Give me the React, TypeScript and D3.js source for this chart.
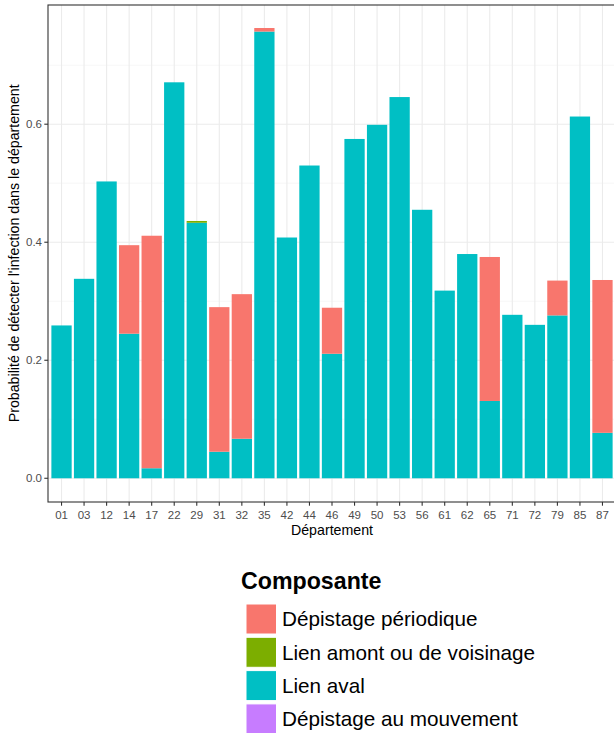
import React from "react";
import * as d3 from "d3";

const departments = ["01","03","12","14","17","22","29","31","32","35","42","44","46","49","50","53","56","61","62","65","71","72","79","85","87"];
const periodique = [0,0,0,0.150,0.394,0,0,0.245,0.245,0.006,0,0,0.078,0,0,0,0,0,0,0.244,0,0,0.059,0,0.259];
const amont = [0,0,0,0,0,0,0.003,0,0,0,0,0,0,0,0,0,0,0,0,0,0,0,0,0,0];
const aval = [0.259,0.338,0.503,0.245,0.017,0.671,0.433,0.045,0.067,0.757,0.408,0.530,0.211,0.575,0.599,0.646,0.455,0.318,0.380,0.131,0.277,0.260,0.276,0.613,0.077];
const mouvement = [0,0,0,0,0,0,0,0,0,0,0,0,0,0,0,0,0,0,0,0,0,0,0,0,0];
const legendLabels = ["Dépistage périodique","Lien amont ou de voisinage","Lien aval","Dépistage au mouvement"];
const yTicks = [0, 0.2, 0.4, 0.6];
const yMinor = [0.1, 0.3, 0.5, 0.7];

const colors: Record<string,string> = {
  periodique: "#F8766D",
  amont: "#7CAE00",
  aval: "#00BFC4",
  mouvement: "#C77CFF",
};

export default function App() {
  const W = 614, H = 733;
  const left = 48, right = 616, top = 5, bottom = 502;
  const font = "'Liberation Sans', Arial, sans-serif";

  const rows = departments.map((d, i) => ({
    dep: d,
    mouvement: mouvement[i],
    aval: aval[i],
    amont: amont[i],
    periodique: periodique[i],
  }));
  const keys = ["mouvement", "aval", "amont", "periodique"];
  const series = d3.stack<any>().keys(keys)(rows);

  const x = d3.scaleBand().domain(departments).range([left, right]).paddingInner(0.1).paddingOuter(0.15);
  const y = d3.scaleLinear().domain([-0.0402, 0.802]).range([bottom, top]);
  const xc = (d: string) => (x(d) as number) + x.bandwidth() / 2;

  const legendKeys = ["periodique", "amont", "aval", "mouvement"];

  return (
    <svg width={W} height={H} style={{ position: "absolute", left: 0, top: 0, background: "#fff" }} fontFamily={font}>
      <rect x={0} y={0} width={W} height={H} fill="#fff" />
      {/* grid */}
      {yMinor.map(t => (
        <line key={"mi" + t} x1={left} x2={right} y1={y(t)} y2={y(t)} stroke="#F2F2F2" strokeWidth={0.6} />
      ))}
      {yTicks.map(t => (
        <line key={"ma" + t} x1={left} x2={right} y1={y(t)} y2={y(t)} stroke="#EBEBEB" strokeWidth={1.1} />
      ))}
      {departments.map(d => (
        <line key={"vx" + d} x1={xc(d)} x2={xc(d)} y1={top} y2={bottom} stroke="#EBEBEB" strokeWidth={1.1} />
      ))}
      {/* bars */}
      {series.map(s => (
        <g key={s.key} fill={colors[s.key]}>
          {s.map((p, i) => {
            const h = y(p[0]) - y(p[1]);
            if (h <= 0) return null;
            return <rect key={i} x={x(departments[i])} width={x.bandwidth()} y={y(p[1])} height={h} />;
          })}
        </g>
      ))}
      {/* panel border */}
      <rect x={left} y={top} width={right - left} height={bottom - top} fill="none" stroke="#333333" strokeWidth={1.1} />
      {/* y axis */}
      {yTicks.map(t => (
        <g key={"yt" + t}>
          <line x1={left - 3.7} x2={left} y1={y(t)} y2={y(t)} stroke="#333333" strokeWidth={1.1} />
          <text x={left - 6} y={y(t)} dy="0.35em" textAnchor="end" fontSize={11.5} fill="#4D4D4D">{t.toFixed(1)}</text>
        </g>
      ))}
      {/* x axis */}
      {departments.map(d => (
        <g key={"xt" + d}>
          <line x1={xc(d)} x2={xc(d)} y1={bottom} y2={bottom + 3.7} stroke="#333333" strokeWidth={1.1} />
          <text x={xc(d)} y={bottom + 16.5} textAnchor="middle" fontSize={11.5} fill="#4D4D4D">{d}</text>
        </g>
      ))}
      <text x={(left + right) / 2} y={535} textAnchor="middle" fontSize={14.2} fill="#000">Département</text>
      <text transform={`translate(18.5,253.3) rotate(-90)`} textAnchor="middle" fontSize={14.2} fill="#000">
        Probabilité de détecter l'infection dans le département
      </text>
      {/* legend */}
      <text x={241} y={589} fontSize={23.2} fontWeight="bold" fill="#000">Composante</text>
      {legendKeys.map((k, i) => (
        <g key={"lg" + k}>
          <rect x={246} y={604 + i * 33.3} width={30.5} height={30} fill={colors[k]} stroke="#fff" strokeWidth={1} />
          <text x={282} y={604 + i * 33.3 + 15} dy="0.35em" fontSize={20.7} fill="#000">{legendLabels[i]}</text>
        </g>
      ))}
    </svg>
  );
}
